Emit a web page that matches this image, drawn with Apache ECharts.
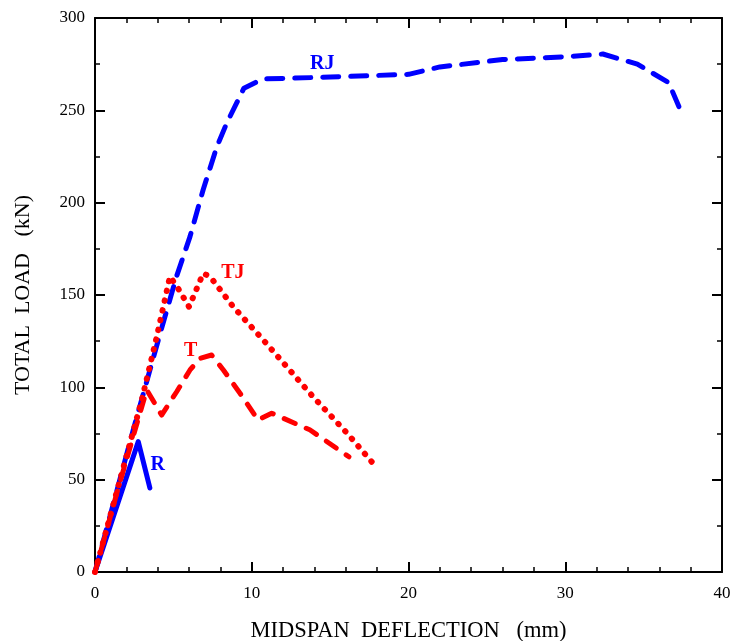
<!DOCTYPE html>
<html>
<head>
<meta charset="utf-8">
<script src="https://cdn.jsdelivr.net/npm/echarts@6/dist/echarts.min.js"></script>
<style>html,body{margin:0;padding:0;background:#fff}#c{width:733px;height:641px}</style>
</head>
<body>
<div id="c"></div>
<script>
// Data (deflection mm, load kN)
const xTicks = [0, 10, 20, 30, 40];
const yTicks = [0, 50, 100, 150, 200, 250, 300];
const seriesR  = [[0,0],[2.76,70.6],[3.5,45.5]];
const seriesRJ = [[0,0],[2.44,77],[4.15,129],[5.2,160],[6.06,181.6],[6.9,207],[7.76,230],[8.4,243],[9.5,262],[10.7,267],[15,268],[20,269.5],[22,273.5],[26,277.5],[30,279],[32.4,280.5],[34.6,275],[36.6,265],[37.3,251]];
const seriesT  = [[0,0],[1.5,46],[3.3,98.6],[4.25,85],[5.21,97.6],[6.06,109.4],[6.7,115.7],[7.44,117.5],[8.19,109.4],[9.25,96.8],[10.4,82.3],[11.27,86],[13.7,77],[16.2,62.4]];
const seriesTJ = [[0,0],[1.6,50],[2.98,93],[3.93,127],[4.78,160],[5.3,153.6],[6.0,143.6],[6.9,161.7],[7.34,160],[8.82,143.6],[10.74,125.6],[13.9,95],[16.1,75],[17.65,59.7]];
const labels = [
  {name:'R',  coord:[4.0,58],  color:'#0000ff'},
  {name:'T',  coord:[6.1,120], color:'#ff0000'},
  {name:'TJ', coord:[8.8,162], color:'#ff0000'},
  {name:'RJ', coord:[14.5,275],color:'#0000ff'}
];

const serif = '"Liberation Serif","DejaVu Serif",serif';
const chart = echarts.init(document.getElementById('c'));
const axisCommon = {
  type:'value',
  axisLine:{show:true,onZero:false,lineStyle:{color:'#000',width:2}},
  axisTick:{show:true,inside:true,length:10,lineStyle:{color:'#000',width:2}},
  minorTick:{show:true,length:5,lineStyle:{color:'#000',width:1.5}},
  splitLine:{show:false},
  axisLabel:{color:'#000',fontFamily:serif,fontSize:17}
};
function mk(base, extra){ return Object.assign({}, JSON.parse(JSON.stringify(base)), extra); }

const xBottom = mk(axisCommon,{position:'bottom',min:xTicks[0],max:xTicks[xTicks.length-1],interval:10,
  name:'MIDSPAN  DEFLECTION   (mm)',nameLocation:'middle',nameGap:48,
  nameTextStyle:{color:'#000',fontFamily:serif,fontSize:22.5}});
xBottom.minorTick.splitNumber = 5;
xBottom.axisLabel.margin = 13;
const xTop = mk(axisCommon,{position:'top',min:xTicks[0],max:xTicks[xTicks.length-1],interval:10});
xTop.minorTick.splitNumber = 5;
xTop.axisLabel = {show:false};
const yLeft = mk(axisCommon,{position:'left',min:yTicks[0],max:yTicks[yTicks.length-1],interval:50,
  name:'TOTAL  LOAD   (kN)',nameLocation:'middle',nameGap:61,
  nameTextStyle:{color:'#000',fontFamily:serif,fontSize:22}});
yLeft.minorTick.splitNumber = 2;
yLeft.axisLabel.margin = 10;
const yRight = mk(axisCommon,{position:'right',min:yTicks[0],max:yTicks[yTicks.length-1],interval:50});
yRight.minorTick.splitNumber = 2;
yRight.axisLabel = {show:false};

function line(name, data, color, dash, width){
  return {name, type:'line', data, xAxisIndex:0, yAxisIndex:0, showSymbol:false, symbol:'none',
    smooth:false, animation:false,
    lineStyle:{color, width:width||5, type:dash, cap:'round', join:'round'}};
}
const series = [
  line('RJ', seriesRJ, '#0000ff', [16,12]),
  line('R', seriesR, '#0000ff', 'solid'),
  line('TJ', seriesTJ, '#ff0000', [0.5,9.5], 6),
  line('T', seriesT, '#ff0000', [12,12])
];
series.push({type:'scatter', data:labels.map(l=>({value:l.coord, label:{show:true, formatter:l.name, color:l.color, opacity:1}})),
  symbolSize:0, silent:true, animation:false, itemStyle:{opacity:1},
  label:{show:true, position:'inside', fontFamily:serif, fontWeight:'bold', fontSize:20, opacity:1}});

chart.setOption({
  animation:false,
  backgroundColor:'#fff',
  grid:{left:95,right:11,top:18,bottom:69,containLabel:false,outerBoundsMode:'none'},
  xAxis:[xBottom,xTop],
  yAxis:[yLeft,yRight],
  series
});
</script>
</body>
</html>
